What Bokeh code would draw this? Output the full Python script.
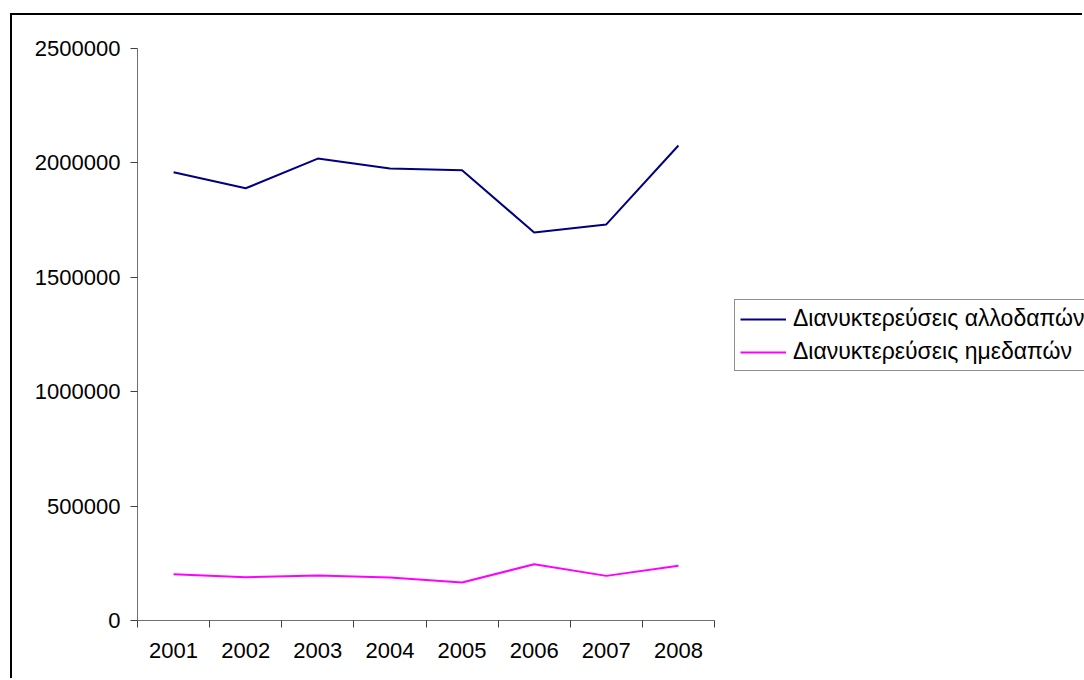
from bokeh.plotting import figure
from bokeh.models import Range1d, FixedTicker, Legend, LegendItem, NumeralTickFormatter
from bokeh.embed import file_html
from bokeh.resources import INLINE

years = ["2001", "2002", "2003", "2004", "2005", "2006", "2007", "2008"]
foreign_nights = [1959000, 1889000, 2019000, 1976000, 1968000, 1696000, 1731000, 2076000]
domestic_nights = [202000, 189000, 197000, 188000, 166000, 246000, 195000, 239000]
series_labels = ["Διανυκτερεύσεις αλλοδαπών", "Διανυκτερεύσεις ημεδαπών"]
y_ticks = [0, 500000, 1000000, 1500000, 2000000, 2500000]

FONT = "Liberation Sans"
FS = "22px"

# layout (pixels): plotted area spans 577 px of a 947 px wide frame
n = len(years)
axis_px, frame_px = 577.0, 947.0
x_end = n * frame_px / axis_px

xs = [i + 0.5 for i in range(n)]

p = figure(width=1072, height=665, output_backend="svg", toolbar_location=None,
           x_range=Range1d(0, x_end), y_range=Range1d(0, 2500000),
           min_border_left=125, min_border_right=0, min_border_top=33,
           min_border_bottom=60)
p.margin = (13, 0, 0, 10)
p.styles = {"border-left": "2px solid black", "border-top": "2px solid black"}
p.outline_line_color = None
p.grid.visible = False
p.background_fill_color = "white"
p.border_fill_color = "white"

axis_col = "#707070"
# x axis
p.xaxis.bounds = (0, n)
p.xaxis.ticker = FixedTicker(ticks=xs, minor_ticks=list(range(n + 1)))
p.xaxis.major_label_overrides = {x: y for x, y in zip(xs, years)}
p.xaxis.major_tick_in = 0
p.xaxis.major_tick_out = 0
p.xaxis.minor_tick_in = 0
p.xaxis.minor_tick_out = 7
p.xaxis.minor_tick_line_color = "#404040"
p.xaxis.axis_line_color = axis_col
p.xaxis.major_label_standoff = 15
# y axis
p.yaxis.ticker = FixedTicker(ticks=y_ticks, minor_ticks=[])
p.yaxis.formatter = NumeralTickFormatter(format="0")
p.yaxis.major_tick_in = 0
p.yaxis.major_tick_out = 7
p.yaxis.major_tick_line_color = "#404040"
p.yaxis.axis_line_color = axis_col
p.yaxis.major_label_standoff = 10
for ax in (p.xaxis, p.yaxis):
    ax.major_label_text_font = FONT
    ax.major_label_text_font_size = FS
    ax.major_label_text_color = "black"

r1 = p.line(xs, foreign_nights, line_color="#000080", line_width=2)
r2 = p.line(xs, domestic_nights, line_color="#FF00FF", line_width=2)

legend = Legend(items=[LegendItem(label=series_labels[0], renderers=[r1]),
                       LegendItem(label=series_labels[1], renderers=[r2])],
                location=(597, 249), orientation="vertical",
                label_text_font=FONT, label_text_font_size="23px",
                label_text_line_height=1.0, label_text_color="black",
                glyph_width=46, glyph_height=20, label_height=20,
                label_width=320,
                label_standoff=7, spacing=6, padding=5, margin=0,
                border_line_color="#202020", border_line_width=1,
                background_fill_color="white", background_fill_alpha=1)
p.add_layout(legend, "center")

open("out.html", "w").write(file_html(p, INLINE))
